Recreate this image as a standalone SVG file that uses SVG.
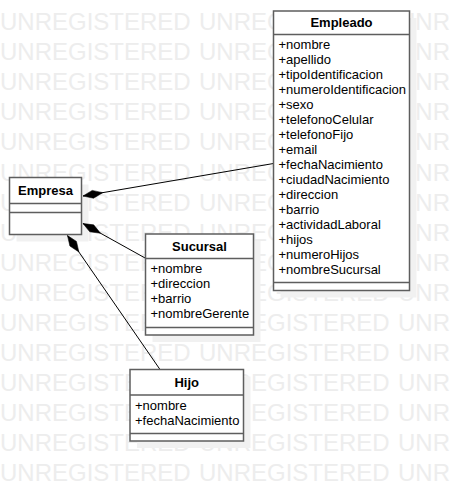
<svg xmlns="http://www.w3.org/2000/svg" width="450" height="482" viewBox="0 0 450 482">
<style>
.wm{font-family:"Liberation Sans",Arial,sans-serif;font-size:24px;fill:#ededed}
.box{fill:#ffffff;stroke:#5e5e5e;stroke-width:1.5}
.sh{fill:#f1f1f1}
.div{stroke:#5e5e5e;stroke-width:1.5;fill:none}
.t{font-family:"Liberation Sans",Arial,sans-serif;font-size:13px;font-weight:bold;fill:#000;text-anchor:middle}
.a{font-family:"Liberation Sans",Arial,sans-serif;font-size:13px;fill:#000}
.c{stroke:#000;stroke-width:1;fill:none;marker-start:url(#dia)}
</style>
<defs>
<marker id="dia" markerUnits="userSpaceOnUse" markerWidth="24" markerHeight="12" refX="0" refY="6" viewBox="0 0 24 12" orient="auto" overflow="visible">
<polygon points="0,6 10,2 20,6 10,10" fill="#000" stroke="#000" stroke-width="0.5"/>
</marker>
</defs>
<rect width="450" height="482" fill="#ffffff"/>
<g id="watermark" class="wm">
<text y="30"><tspan x="0">UNREGISTERED</tspan><tspan x="199">UNREGISTERED</tspan><tspan x="398">UNR</tspan></text>
<text y="60.1"><tspan x="0">UNREGISTERED</tspan><tspan x="199">UNREGISTERED</tspan><tspan x="398">UNR</tspan></text>
<text y="90.2"><tspan x="0">UNREGISTERED</tspan><tspan x="199">UNREGISTERED</tspan><tspan x="398">UNR</tspan></text>
<text y="120.3"><tspan x="0">UNREGISTERED</tspan><tspan x="199">UNREGISTERED</tspan><tspan x="398">UNR</tspan></text>
<text y="150.4"><tspan x="0">UNREGISTERED</tspan><tspan x="199">UNREGISTERED</tspan><tspan x="398">UNR</tspan></text>
<text y="180.5"><tspan x="0">UNREGISTERED</tspan><tspan x="199">UNREGISTERED</tspan><tspan x="398">UNR</tspan></text>
<text y="210.6"><tspan x="0">UNREGISTERED</tspan><tspan x="199">UNREGISTERED</tspan><tspan x="398">UNR</tspan></text>
<text y="240.7"><tspan x="0">UNREGISTERED</tspan><tspan x="199">UNREGISTERED</tspan><tspan x="398">UNR</tspan></text>
<text y="270.8"><tspan x="0">UNREGISTERED</tspan><tspan x="199">UNREGISTERED</tspan><tspan x="398">UNR</tspan></text>
<text y="300.9"><tspan x="0">UNREGISTERED</tspan><tspan x="199">UNREGISTERED</tspan><tspan x="398">UNR</tspan></text>
<text y="331"><tspan x="0">UNREGISTERED</tspan><tspan x="199">UNREGISTERED</tspan><tspan x="398">UNR</tspan></text>
<text y="361.1"><tspan x="0">UNREGISTERED</tspan><tspan x="199">UNREGISTERED</tspan><tspan x="398">UNR</tspan></text>
<text y="391.2"><tspan x="0">UNREGISTERED</tspan><tspan x="199">UNREGISTERED</tspan><tspan x="398">UNR</tspan></text>
<text y="421.3"><tspan x="0">UNREGISTERED</tspan><tspan x="199">UNREGISTERED</tspan><tspan x="398">UNR</tspan></text>
<text y="451.4"><tspan x="0">UNREGISTERED</tspan><tspan x="199">UNREGISTERED</tspan><tspan x="398">UNR</tspan></text>
<text y="481"><tspan x="0">UNREGISTERED</tspan><tspan x="199">UNREGISTERED</tspan><tspan x="398">UNR</tspan></text>
</g>
<g id="shadows">
<rect class="sh" x="16.5" y="184.5" width="72" height="57"/>
<rect class="sh" x="280.5" y="18" width="136" height="279.5"/>
<rect class="sh" x="152.5" y="241" width="108" height="101"/>
<rect class="sh" x="137" y="376.5" width="113.5" height="71.5"/>
</g>
<g id="connectors">
<path class="c" d="M83,196 L273.5,163.5"/>
<path class="c" d="M83,223.5 L146,258.5"/>
<path class="c" d="M67.5,235.5 L160,369.5"/>
</g>
<g id="Empresa">
<rect class="box" x="9.5" y="177.5" width="72" height="57"/>
<path class="div" d="M9.5,203.5 H81.5 M9.5,212.5 H81.5"/>
<text class="t" x="45.5" y="195">Empresa</text>
</g>
<g id="Empleado">
<rect class="box" x="273.5" y="11" width="136" height="279.5"/>
<path class="div" d="M273.5,34.5 H409.5 M273.5,282.5 H409.5"/>
<text class="t" x="341.5" y="27.3">Empleado</text>
<text class="a" x="278.5" y="48.5">+nombre</text>
<text class="a" x="278.5" y="63.5">+apellido</text>
<text class="a" x="278.5" y="78.5">+tipoIdentificacion</text>
<text class="a" x="278.5" y="93.5">+numeroIdentificacion</text>
<text class="a" x="278.5" y="108.5">+sexo</text>
<text class="a" x="278.5" y="123.5">+telefonoCelular</text>
<text class="a" x="278.5" y="138.5">+telefonoFijo</text>
<text class="a" x="278.5" y="153.5">+email</text>
<text class="a" x="278.5" y="168.5">+fechaNacimiento</text>
<text class="a" x="278.5" y="183.5">+ciudadNacimiento</text>
<text class="a" x="278.5" y="198.5">+direccion</text>
<text class="a" x="278.5" y="213.5">+barrio</text>
<text class="a" x="278.5" y="228.5">+actividadLaboral</text>
<text class="a" x="278.5" y="243.5">+hijos</text>
<text class="a" x="278.5" y="258.5">+numeroHijos</text>
<text class="a" x="278.5" y="273.5">+nombreSucursal</text>
</g>
<g id="Sucursal">
<rect class="box" x="145.5" y="234" width="108" height="101"/>
<path class="div" d="M145.5,258.5 H253.5 M145.5,327.5 H253.5"/>
<text class="t" x="199.5" y="250.8">Sucursal</text>
<text class="a" x="150.5" y="273.3">+nombre</text>
<text class="a" x="150.5" y="288.3">+direccion</text>
<text class="a" x="150.5" y="303.3">+barrio</text>
<text class="a" x="150.5" y="318.3">+nombreGerente</text>
</g>
<g id="Hijo">
<rect class="box" x="130" y="369.5" width="113.5" height="71.5"/>
<path class="div" d="M130,395 H243.5 M130,433.5 H243.5"/>
<text class="t" x="186.75" y="386.7">Hijo</text>
<text class="a" x="135" y="410">+nombre</text>
<text class="a" x="135" y="425">+fechaNacimiento</text>
</g>
</svg>
